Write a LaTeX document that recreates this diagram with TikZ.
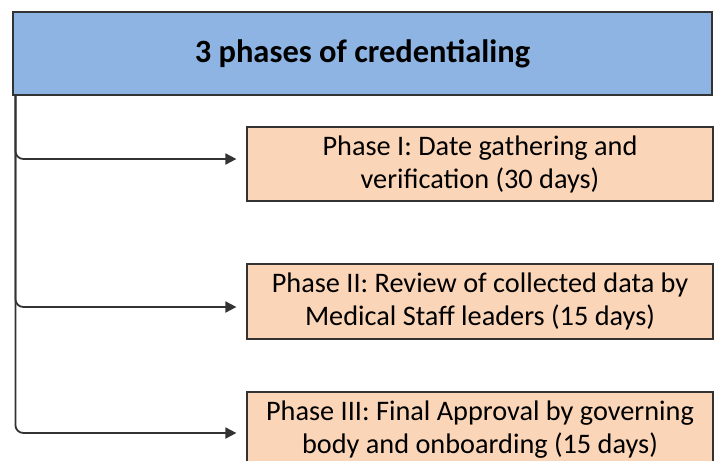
\documentclass[tikz,border=0pt]{standalone}
\usepackage{fontspec}
\setmainfont{Carlito}
\usetikzlibrary{arrows.meta}
\definecolor{hdrblue}{HTML}{8EB4E3}
\definecolor{phasefill}{HTML}{FBD5B7}
\definecolor{edgegray}{HTML}{333333}
\tikzset{
  titlebox/.style={rectangle, draw=edgegray, line width=1.2pt, fill=hdrblue,
                   font=\fontsize{32.5}{38}\selectfont\bfseries, inner sep=0pt},
  phasebox/.style={rectangle, draw=edgegray, line width=1.2pt, fill=phasefill,
                   align=center, font=\fontsize{28.3}{33}\selectfont,
                   minimum width=466pt, minimum height=74pt, inner sep=0pt},
  arr/.style={-{Triangle[length=11pt, width=11pt]}, line width=1.8pt,
              draw=edgegray, rounded corners=8pt},
}
\begin{document}
\begin{tikzpicture}[x=1pt, y=-1pt]
    \useasboundingbox (0,0) rectangle (724,461);
    \clip (0,0) rectangle (724,461);
    \fill[white] (0,0) rectangle (724,461);
    \node[titlebox, minimum width=699pt, minimum height=83pt] (hdr) at (362.5,53.5)
      {3 phases of credentialing};
    \node[phasebox] (p1) at (480,164)
      {Phase I: Date gathering and\\verification (30 days)};
    \node[phasebox, minimum height=75pt] (p2) at (480,301.5)
      {Phase II: Review of collected data by\\Medical Staff leaders (15 days)};
    \node[phasebox, minimum height=75pt] (p3) at (480,429.5)
      {Phase III: Final Approval by governing\\body and onboarding (15 days)};
    \draw[arr] ([xshift=3pt]hdr.south west) |- ([xshift=-10pt, yshift=5pt]p1.west);
    \draw[arr] ([xshift=3pt]hdr.south west) |- ([xshift=-10pt, yshift=-5.5pt]p2.west);
    \draw[arr] ([xshift=3pt]hdr.south west) |- ([xshift=-10pt, yshift=-3.5pt]p3.west);
  \end{tikzpicture}
\end{document}
